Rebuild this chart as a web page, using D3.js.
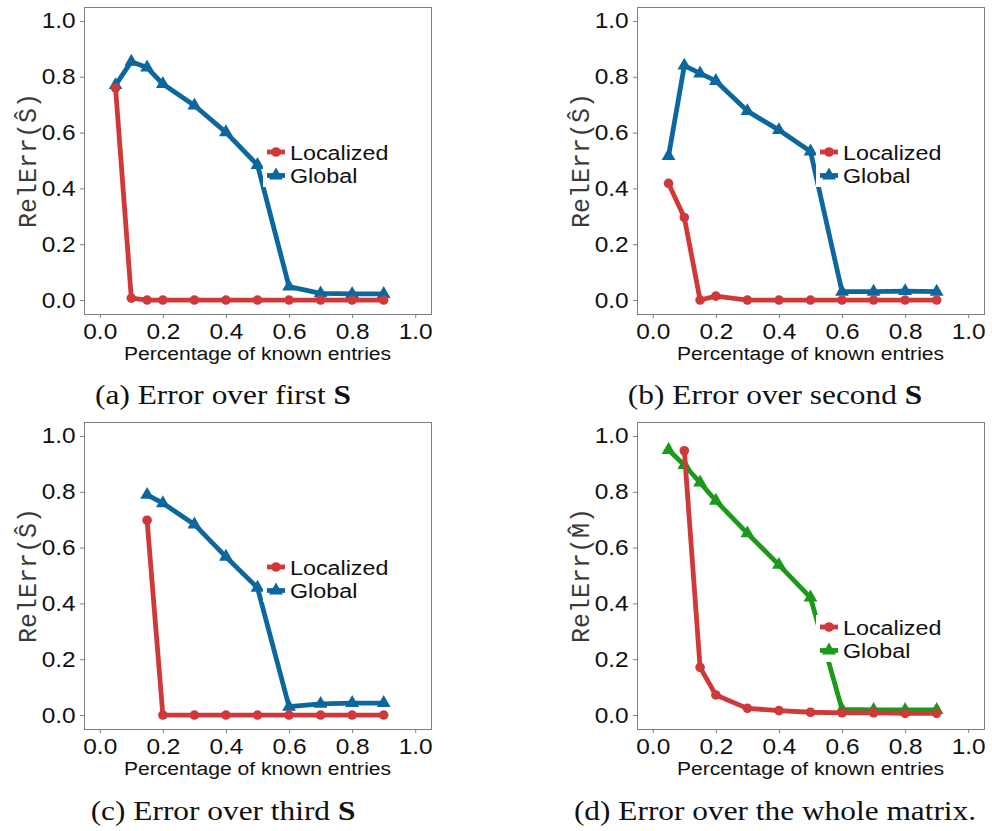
<!DOCTYPE html>
<html>
<head>
<meta charset="utf-8">
<script src="https://cdn.jsdelivr.net/npm/d3@7"></script>
<style>
  body { margin: 0; background: #fff; }
  svg { display: block; }
</style>
</head>
<body>
<svg id="fig" width="992" height="831"></svg>
<script>
// Fraction of known entries (x) shared by all four panels
const xPct = [0.05, 0.1, 0.15, 0.2, 0.3, 0.4, 0.5, 0.6, 0.7, 0.8, 0.9];
const axisTicks = [0, 0.2, 0.4, 0.6, 0.8, 1.0];
const seriesNames = ["Localized", "Global"];

// Relative error per panel (null = not measured)
const localizedA = [0.76, 0.007, 0, 0, 0, 0, 0, 0, 0, 0, 0];
const globalA    = [0.77, 0.854, 0.833, 0.774, 0.697, 0.601, 0.484, 0.048, 0.024, 0.022, 0.022];
const localizedB = [0.418, 0.296, 0, 0.014, 0, 0, 0, 0, 0, 0, 0];
const globalB    = [0.516, 0.84, 0.812, 0.785, 0.677, 0.609, 0.532, 0.03, 0.03, 0.032, 0.03];
const localizedC = [null, null, 0.698, 0, 0, 0, 0, 0, 0, 0, 0];
const globalC    = [null, null, 0.789, 0.759, 0.683, 0.567, 0.456, 0.03, 0.04, 0.043, 0.043];
const localizedD = [null, 0.947, 0.171, 0.072, 0.024, 0.016, 0.01, 0.008, 0.008, 0.006, 0.006];
const globalD    = [0.95, 0.896, 0.833, 0.768, 0.651, 0.538, 0.421, 0.02, 0.018, 0.018, 0.018];

const yTitles = ["RelErr(\u015C)", "RelErr(\u015C)", "RelErr(\u015C)", "RelErr(M\u0302)"];
const captions = [
  ["(a) Error over first ", "S"],
  ["(b) Error over second ", "S"],
  ["(c) Error over third ", "S"],
  ["(d) Error over the whole matrix.", ""]
];

const RED = "#d03939", BLUE = "#0b679e", GREEN = "#1a991a";
const SANS = "'Liberation Sans', Arial, Helvetica, sans-serif";
const MONO = "'Liberation Mono', 'Courier New', monospace";
const SERIF = "'Liberation Serif', 'Times New Roman', serif";
const SX = 1.11;          // horizontal text stretch
const BOX_W = 347, BOX_H = 307;

const panels = [
  { loc: localizedA, glob: globalA, gColor: BLUE,  x0: 84,  y0: 7,   legDy: 145, capX: 223, capY: 404 },
  { loc: localizedB, glob: globalB, gColor: BLUE,  x0: 637, y0: 7,   legDy: 145, capX: 775, capY: 404 },
  { loc: localizedC, glob: globalC, gColor: BLUE,  x0: 84,  y0: 422, legDy: 145, capX: 223, capY: 820 },
  { loc: localizedD, glob: globalD, gColor: GREEN, x0: 637, y0: 422, legDy: 205, capX: 775, capY: 820 }
];

const svg = d3.select("#fig");
const tri = d3.symbol().type(d3.symbolTriangle).size(82);

function stretchedText(g, x, y, txt, size, family, anchor) {
  return g.append("text")
    .attr("transform", `translate(${x},${y}) scale(${SX},1)`)
    .attr("text-anchor", anchor || "start")
    .style("font-family", family)
    .style("font-size", size + "px")
    .attr("fill", "#111")
    .text(txt);
}

panels.forEach((p, i) => {
  const g = svg.append("g");
  const x = d3.scaleLinear().domain([-0.05, 1.05]).range([p.x0, p.x0 + BOX_W]);
  const y = d3.scaleLinear().domain([-0.05, 1.05]).range([p.y0 + BOX_H, p.y0]);

  // axes
  const fmt = d3.format(".1f");
  const yAx = g.append("g").attr("transform", `translate(${p.x0},0)`)
    .call(d3.axisLeft(y).tickValues(axisTicks).tickFormat(fmt).tickSize(4).tickPadding(3.5));
  const xAx = g.append("g").attr("transform", `translate(0,${p.y0 + BOX_H})`)
    .call(d3.axisBottom(x).tickValues(axisTicks).tickFormat(fmt).tickSize(4).tickPadding(5));
  [yAx, xAx].forEach(a => {
    a.select(".domain").remove();
    a.selectAll(".tick line").attr("stroke", "#7f7f7f");
    a.selectAll(".tick text")
      .style("font-family", SANS).style("font-size", "22px").attr("fill", "#111")
      .attr("transform", `scale(${SX},1)`);
  });

  // panel border
  g.append("rect")
    .attr("x", p.x0 + 0.5).attr("y", p.y0 + 0.5)
    .attr("width", BOX_W).attr("height", BOX_H)
    .attr("fill", "none").attr("stroke", "#7f7f7f").attr("stroke-width", 1);

  // axis titles
  stretchedText(g, p.x0 + BOX_W / 2, p.y0 + 353, "Percentage of known entries", 19, SANS, "middle");
  g.append("text")
    .attr("transform", `translate(${p.x0 - 48},${p.y0 + BOX_H / 2}) rotate(-90)`)
    .attr("text-anchor", "middle")
    .style("font-family", MONO).style("font-size", "25px")
    .attr("fill", "#3a3a3a")
    .text(yTitles[i]);

  // series
  const line = d3.line()
    .defined(d => d.v !== null)
    .x(d => x(d.x)).y(d => y(d.v));
  const series = [
    { vals: p.glob, color: p.gColor, shape: "tri" },
    { vals: p.loc,  color: RED,      shape: "circle" }
  ];
  series.forEach(s => {
    const pts = xPct.map((xv, k) => ({ x: xv, v: s.vals[k] }));
    g.append("path").datum(pts)
      .attr("d", line)
      .attr("fill", "none").attr("stroke", s.color)
      .attr("stroke-width", 4.8).attr("stroke-linejoin", "round");
    const valid = pts.filter(d => d.v !== null);
    if (s.shape === "circle") {
      g.selectAll(null).data(valid).enter().append("circle")
        .attr("cx", d => x(d.x)).attr("cy", d => y(d.v)).attr("r", 4.8)
        .attr("fill", s.color);
    } else {
      g.selectAll(null).data(valid).enter().append("path")
        .attr("d", tri)
        .attr("transform", d => `translate(${x(d.x)},${y(d.v)})`)
        .attr("fill", s.color);
    }
  });

  // legend
  const kx = p.x0 + 183, ky = p.y0 + p.legDy;
  g.append("rect")
    .attr("x", kx - 4).attr("y", ky - 12)
    .attr("width", 132).attr("height", 47)
    .attr("fill", "#fff");
  const keys = [
    { name: seriesNames[0], color: RED, shape: "circle" },
    { name: seriesNames[1], color: p.gColor, shape: "tri" }
  ];
  keys.forEach((k, j) => {
    const yy = ky + j * 23.5;
    g.append("line")
      .attr("x1", kx).attr("x2", kx + 18).attr("y1", yy).attr("y2", yy)
      .attr("stroke", k.color).attr("stroke-width", 4.8);
    if (k.shape === "circle") {
      g.append("circle").attr("cx", kx + 9).attr("cy", yy).attr("r", 4.8).attr("fill", k.color);
    } else {
      g.append("path").attr("d", tri).attr("transform", `translate(${kx + 9},${yy})`).attr("fill", k.color);
    }
    stretchedText(g, kx + 23, yy + 7.5, k.name, 21, SANS, "start");
  });

  // caption
  const cap = svg.append("text")
    .attr("transform", `translate(${p.capX},${p.capY}) scale(1.12,1)`)
    .attr("text-anchor", "middle")
    .style("font-family", SERIF).style("font-size", "28px")
    .attr("fill", "#111");
  cap.append("tspan").text(captions[i][0]);
  if (captions[i][1]) cap.append("tspan").style("font-weight", "bold").text(captions[i][1]);
});
</script>
</body>
</html>
